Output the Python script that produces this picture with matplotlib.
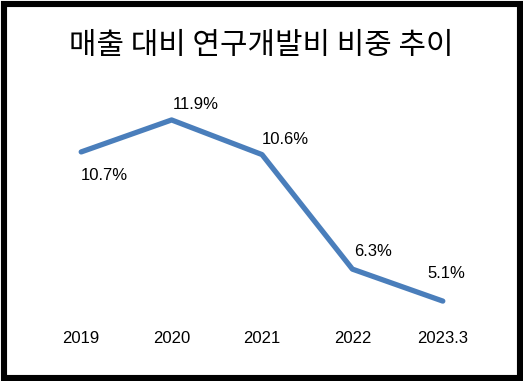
import matplotlib
matplotlib.use("Agg")
import matplotlib.pyplot as plt
from matplotlib.patches import Rectangle

plt.rcParams['font.family'] = ['Noto Sans CJK KR', 'DejaVu Sans']

# data
years = ["2019", "2020", "2021", "2022", "2023.3"]
ratio = [10.7, 11.9, 10.6, 6.3, 5.1]
value_labels = ["10.7%", "11.9%", "10.6%", "6.3%", "5.1%"]

# label offsets (points) relative to each marker
label_offsets = [(0, -17), (1, 11), (0, 11), (1, 13), (-11, 20)]

W, H = 523, 381
fig = plt.figure(figsize=(W / 100, H / 100), dpi=100)
fig.patch.set_facecolor("white")

# outer black frame
fig.patches.append(Rectangle((3.5 / W, 3.5 / H), 1 - 7 / W, 1 - 7 / H,
                             transform=fig.transFigure, fill=False,
                             edgecolor="black", linewidth=4.4))

fig.text(0.5, 1 - 46 / H, "매출 대비 연구개발비 비중 추이", ha="center", va="center",
         fontsize=21.5, color="black")

ax = fig.add_axes([36 / W, (H - 320) / H, 452 / W, 240 / H])
x = range(len(years))
ax.plot(x, ratio, color="#4a7ebb", linewidth=3.8,
        solid_capstyle="round", solid_joinstyle="round")

for i, (v, lab) in enumerate(zip(ratio, value_labels)):
    ax.annotate(lab, (i, v), xytext=label_offsets[i], textcoords="offset points",
                ha="left", va="center", fontsize=12, family=["Liberation Sans"])

ax.set_xlim(-0.5, 4.5)
ax.set_ylim(4.39, 13.40)
ax.set_xticks(list(x))
ax.set_xticklabels(years, fontsize=12, family=["Liberation Sans"])
ax.tick_params(axis="x", length=0, pad=8)
ax.set_yticks([])
for s in ax.spines.values():
    s.set_visible(False)
ax.set_facecolor("none")

plt.savefig("out.png", dpi=100)
plt.close()
